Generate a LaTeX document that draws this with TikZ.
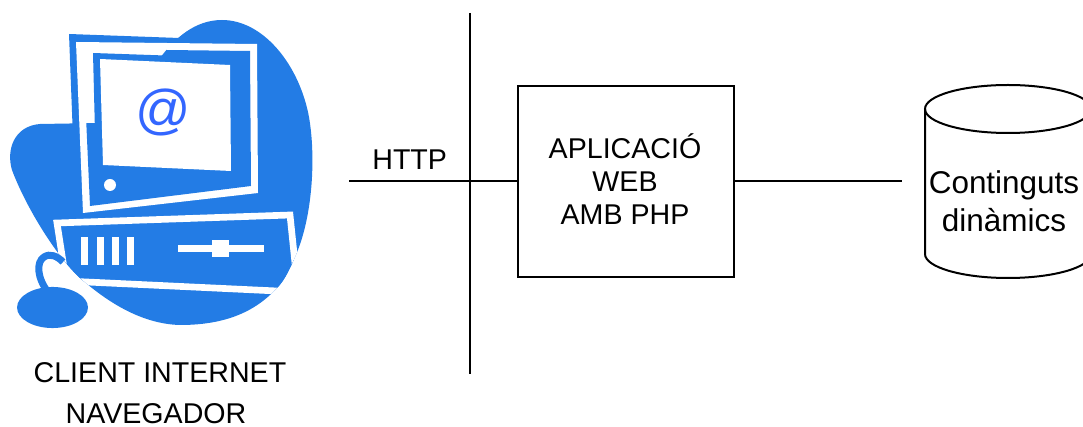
\documentclass[tikz,border=0pt]{standalone}
\usepackage{fontspec}
\setmainfont{Liberation Sans}
\definecolor{iconblue}{RGB}{35,124,229}
\definecolor{atblue}{RGB}{51,102,255}
% outline of the blue backdrop behind the computer
\newcommand\blobshape{(222,20) .. controls (262,20) and (297,62) .. (308,112)
  .. controls (316,150) and (314,215) .. (295,257)
  .. controls (290,268) and (285,280) .. (277,288)
  .. controls (255,312) and (225,325) .. (180,325)
  .. controls (140,324) and (105,300) .. (80,278)
  .. controls (55,255) and (25,205) .. (12,170)
  .. controls (6,150) and (14,126) .. (40,124)
  -- (100,123) -- (160,58)
  .. controls (175,38) and (195,20) .. (222,20) -- cycle}
\begin{document}
\begin{tikzpicture}[x=0.75pt,y=-0.75pt,
  wire/.style={line width=1.5pt},
  lbl/.style={inner sep=0pt,anchor=base,font=\fontsize{21.45}{25}\selectfont},
  dblbl/.style={inner sep=0pt,anchor=base,font=\fontsize{23.6}{28}\selectfont},
  whitebar/.style={fill=white}]
\useasboundingbox (0,0) rectangle (1083,427);

% ---- client computer icon ----
\fill[iconblue] \blobshape;
% monitor frame
\fill[iconblue] (69,34) -- (262,41) -- (263,198) -- (76,216) -- cycle;
\fill[white] (76,42) -- (257,44) -- (258,193) -- (83,213) -- cycle;
\begin{scope}
  \clip (83,49) -- (250,51) -- (251,186) -- (90,206) -- cycle;
  \fill[iconblue] \blobshape;
\end{scope}
\fill[iconblue] (93,53) -- (237,58) -- (238,178) -- (96,172) -- cycle;
\fill[white] (100,59) -- (230,65) -- (231,171) -- (103,165) -- cycle;
\fill[white] (110,185) circle[radius=4.5pt];
\node[text=atblue,font=\fontsize{41}{41}\selectfont,inner sep=0pt] (atsign) at (163,112) {@};
% system unit
\begin{scope}
  \clip \blobshape;
  \filldraw[fill=iconblue,draw=white,line width=5pt]
    (57,223) -- (290,215) -- (298,292) -- (66,281) -- cycle;
\end{scope}
\fill[whitebar] (81,237) rectangle (88,265);
\fill[whitebar] (97,237) rectangle (104,265);
\fill[whitebar] (112,237) rectangle (119,265);
\fill[whitebar] (127,237) rectangle (134,265);
\fill[whitebar] (178,245) rectangle (264,252);
\fill[whitebar] (212,240) rectangle (229,257);
% mouse
\draw[iconblue,line width=5.25pt] (48,292) .. controls (37,278) and (36,262) .. (44,257)
  .. controls (50,253) and (57,256) .. (63,262);
\fill[iconblue] (52.5,307.5) ellipse[x radius=26.6pt,y radius=15.4pt];

\node[lbl] (cl1) at (160,382.7) {CLIENT INTERNET};
\node[lbl] (cl2) at (156,423.5) {NAVEGADOR};

% ---- network boundary and HTTP link ----
\coordinate (vtop) at (469.7,13);
\coordinate (vbot) at (469.7,374);
\draw[wire] (vtop) -- (vbot);
\node[lbl] (http) at (409.7,170) {HTTP};

% ---- web application ----
\node[draw,line width=1.5pt,minimum width=162.2pt,minimum height=143.7pt,inner sep=0pt]
  (app) at (625.9,181.5) {};
\node[lbl] (app1) at (625,158.3) {APLICACIÓ};
\node[lbl] (app2) at (625,191.7) {WEB};
\node[lbl] (app3) at (625,225) {AMB PHP};

\coordinate (hleft) at (349,181.5);
\draw[wire] (hleft) -- (app.west);

% ---- dynamic content store ----
\node[minimum width=124.5pt,minimum height=144.75pt,inner sep=0pt] (db) at (1008,181.5) {};
\draw[wire] (1008,109) ellipse[x radius=62.25pt,y radius=18pt];
\draw[wire] (925,109) -- (925,254) arc[start angle=180,end angle=360,x radius=62.25pt,y radius=18pt] -- (1091,109);
\node[dblbl] (db1) at (1004,193.3) {Continguts};
\node[dblbl] (db2) at (1004,232) {dinàmics};

\draw[wire,shorten >=17.25pt] (app.east) -- (db.west);
\end{tikzpicture}
\end{document}
